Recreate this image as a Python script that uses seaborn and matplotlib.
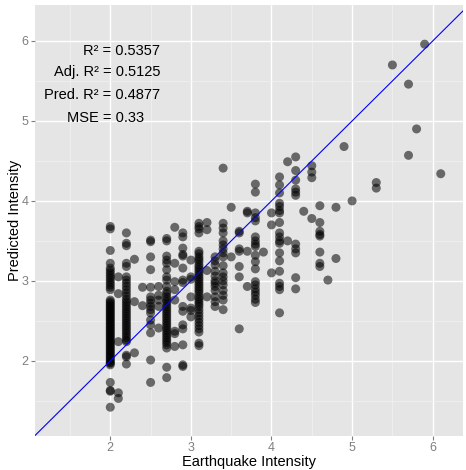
import numpy as np
import pandas as pd
import seaborn as sns
import matplotlib
matplotlib.use("Agg")
import matplotlib.pyplot as plt

# observed intensity levels and the predicted values read at each level
x_levels = [2.0, 2.1, 2.2, 2.3, 2.4, 2.5, 2.6, 2.7, 2.8, 2.9, 3.0, 3.1, 3.2, 3.3,
            3.4, 3.5, 3.6, 3.7, 3.8, 3.9, 4.0, 4.1, 4.2, 4.3, 4.4, 4.5, 4.6,
            4.7, 4.8, 4.9, 5.0, 5.3, 5.5, 5.7, 5.8, 5.9, 6.1]

predicted_by_level = [
    # 2.0
    [3.68, 3.65, 3.38, 3.22, 3.16, 3.13, 3.1, 3.07, 3.04, 3.01, 2.98, 2.95, 2.92, 2.89,
     2.76, 2.74, 2.72, 2.7, 2.68, 2.66, 2.64, 2.62, 2.6, 2.58, 2.56, 2.54, 2.52, 2.5,
     2.48, 2.46, 2.44, 2.42, 2.4, 2.38, 2.36, 2.34, 2.32, 2.3, 2.28, 2.26, 2.24, 2.22,
     2.2, 2.18, 2.16, 2.14, 2.12, 2.1, 2.08, 2.06, 2.04, 2.02, 2.0, 1.98, 1.97, 1.95,
     1.73, 1.63, 1.62, 1.42],
    # 2.1
    [3.05, 2.84, 2.24, 1.6, 1.53],
    # 2.2
    [3.6, 3.47, 3.44, 3.22, 3.18, 3.05, 3.01, 2.97, 2.93, 2.89, 2.85, 2.81, 2.77, 2.74,
     2.71, 2.68, 2.65, 2.62, 2.59, 2.56, 2.53, 2.5, 2.47, 2.44, 2.41, 2.38, 2.35, 2.32,
     2.29, 2.26, 2.24, 2.07, 2.05, 1.96],
    # 2.3
    [3.27, 2.74, 2.1],
    # 2.4
    [2.92, 2.69],
    # 2.5
    [3.51, 3.49, 3.3, 3.14, 2.92, 2.8, 2.76, 2.72, 2.68, 2.64, 2.6, 2.51, 2.45, 2.35,
     2.01, 1.73],
    # 2.6
    [2.93, 2.82, 2.76, 2.68, 2.41],
    # 2.7
    [3.53, 3.5, 3.31, 3.26, 3.22, 3.14, 3.05, 3.01, 2.93, 2.87, 2.84, 2.8, 2.77, 2.74,
     2.71, 2.68, 2.65, 2.62, 2.59, 2.56, 2.53, 2.5, 2.47, 2.44, 2.41, 2.38, 2.35, 2.32,
     2.29, 2.26, 2.23, 2.2, 2.16, 1.92, 1.79],
    # 2.8
    [3.67, 3.22, 2.99, 2.89, 2.76, 2.37, 2.34, 2.18],
    # 2.9
    [3.6, 3.55, 3.41, 3.33, 3.31, 3.16, 3.01, 2.98, 2.68, 2.62, 2.45, 2.4, 2.2, 1.95, 1.93],
    # 3.0
    [3.26, 3.05, 3.02, 2.8, 2.66, 2.63, 2.55],
    # 3.1
    [3.72, 3.68, 3.65, 3.6, 3.37, 3.34, 3.3, 3.27, 3.24, 3.2, 3.17, 3.14, 3.11, 3.08,
     3.05, 3.02, 2.99, 2.96, 2.93, 2.9, 2.87, 2.84, 2.8, 2.77, 2.74, 2.71, 2.68, 2.64,
     2.6, 2.56, 2.52, 2.48, 2.44, 2.4, 2.36, 2.22, 2.19],
    # 3.2
    [3.73, 3.64, 3.13, 2.8],
    # 3.3
    [3.3, 3.25, 3.2, 3.12, 3.06, 3.0, 2.97, 2.93, 2.88, 2.8, 2.74, 2.68],
    # 3.4
    [4.41, 3.72, 3.66, 3.6, 3.5, 3.45, 3.4, 3.35, 3.3, 3.19, 3.1, 3.05, 3.0, 2.95, 2.88,
     2.82, 2.76, 2.64],
    # 3.5
    [3.92, 3.3],
    # 3.6
    [3.62, 3.6, 3.4, 3.37, 3.18, 3.05, 2.4],
    # 3.7
    [3.87, 3.85, 3.37, 2.93],
    # 3.8
    [4.21, 4.11, 3.85, 3.79, 3.75, 3.55, 3.5, 3.46, 3.43, 3.32, 3.24, 3.15, 2.99, 2.95,
     2.9, 2.86, 2.82, 2.77, 2.73],
    # 3.9
    [3.36],
    # 4.0
    [3.85, 3.7, 3.1],
    # 4.1
    [4.3, 4.2, 4.1, 3.97, 3.93, 3.88, 3.85, 3.73, 3.6, 3.55, 3.5, 3.47, 3.35, 3.25, 3.12,
     2.97, 2.93, 2.89, 2.6],
    # 4.2
    [4.49, 3.5],
    # 4.3
    [4.55, 4.38, 4.26, 4.15, 4.11, 4.07, 3.46, 3.4, 3.35, 3.04, 2.9],
    # 4.4
    [3.87],
    # 4.5
    [4.44, 4.36, 4.29, 3.78],
    # 4.6
    [3.94, 3.73, 3.62, 3.58, 3.56, 3.36, 3.22, 3.18],
    # 4.7
    [3.01],
    # 4.8
    [3.92, 3.28],
    # 4.9
    [4.68],
    # 5.0
    [4.0],
    # 5.3
    [4.23, 4.16],
    # 5.5
    [5.7],
    # 5.7
    [5.46, 4.57],
    # 5.8
    [4.9],
    # 5.9
    [5.96],
    # 6.1
    [4.34],
]

stat_labels = ["R\u00b2 = 0.5357", "Adj. R\u00b2 = 0.5125", "Pred. R\u00b2 = 0.4877", "MSE = 0.33"]

rows = []
for xv, ys in zip(x_levels, predicted_by_level):
    for yv in ys:
        rows.append((xv, yv))
df = pd.DataFrame(rows, columns=["observed", "predicted"])

sns.set_theme(style="darkgrid")
plt.rcParams["font.family"] = ["Liberation Sans", "DejaVu Sans"]

fig = plt.figure(figsize=(4.66, 4.70), dpi=100)
ax = fig.add_axes([35 / 466, 34 / 470, 428 / 466, 431 / 470])
ax.set_facecolor("#E5E5E5")

ax.set_xlim(1.066, 6.376)
ax.set_ylim(1.06, 6.45)
ax.set_xticks([2, 3, 4, 5, 6])
ax.set_yticks([2, 3, 4, 5, 6])
ax.set_xticks(np.arange(1.5, 6.5, 1.0), minor=True)
ax.set_yticks(np.arange(1.5, 6.5, 1.0), minor=True)
ax.grid(which="major", color="white", linewidth=1.0)
ax.grid(which="minor", color="#F2F2F2", linewidth=0.5)
ax.set_axisbelow(True)
for s in ax.spines.values():
    s.set_visible(False)

sns.scatterplot(data=df, x="observed", y="predicted", ax=ax, color="black",
                alpha=0.55, s=42, edgecolor="none", legend=False, zorder=3)
ax.axline((2, 2), slope=1, color="#0000FF", linewidth=0.8, zorder=4)

ax.tick_params(which="major", axis="both", length=3, width=0.8, color="#7F7F7F",
               labelcolor="#7F7F7F", labelsize=9, pad=1.5, bottom=True, left=True)
ax.tick_params(which="minor", length=0)

ax.set_xlabel("Earthquake Intensity", fontsize=10.5, color="black")
ax.set_ylabel("Predicted Intensity", fontsize=10.5, color="black")
ax.xaxis.set_label_coords(0.5, -0.045)
ax.yaxis.set_label_coords(-0.03, 0.5)

text_x = [2.62, 2.62, 2.62, 2.42]
text_y = [5.88, 5.61, 5.32, 5.04]
for tx, ty, lab in zip(text_x, text_y, stat_labels):
    ax.text(tx, ty, lab, ha="right", va="center", fontsize=10.5, color="black", zorder=5)

fig.savefig("out.png", dpi=100)
